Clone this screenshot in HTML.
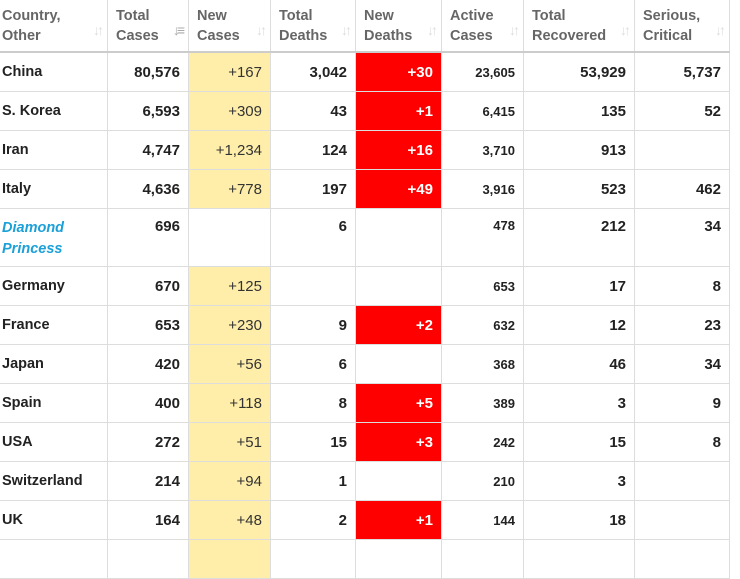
<!DOCTYPE html>
<html><head><meta charset="utf-8"><style>
body{margin:0;background:#fff;width:740px;height:545px;overflow:hidden;font-family:"Liberation Sans",Arial,sans-serif;}
table{border-collapse:collapse;table-layout:fixed;width:730px;position:absolute;left:-1px;top:0;}
td,th{border:1px solid #ddd;padding:0 8px;font-size:15px;color:#222;}
th{height:51px;text-align:left;color:#666;font-weight:bold;font-size:14.5px;line-height:20px;vertical-align:middle;border-top:none;border-bottom:2px solid #ccc;position:relative;}
th .s{position:absolute;right:6px;bottom:11px;color:#ddd;font-size:14px;letter-spacing:-3px;}
td{height:38px;text-align:right;font-weight:bold;}
td.c{text-align:left;font-weight:bold;font-size:14.5px;padding-left:2px;}
td.n{background:#ffeeaa;font-weight:normal;color:#333;}
td.r{background:#ff0000;color:#fff;}
td.a{font-size:13px;}
td.dp{color:#1ba0d8;font-style:italic;vertical-align:top;padding-top:9px;line-height:21px;}
tr.dpr td{vertical-align:top;padding-top:9px;height:48px;}
</style></head><body>
<table>
<colgroup><col style="width:108px"><col style="width:81px"><col style="width:82px"><col style="width:85px"><col style="width:86px"><col style="width:82px"><col style="width:111px"><col style="width:95px"></colgroup>
<tr>
<th style="padding-left:2px">Country,<br>Other<span class="s">↓↑</span></th>
<th>Total<br>Cases<span class="s" style="color:#aaa">↓≡</span></th>
<th>New<br>Cases<span class="s">↓↑</span></th>
<th>Total<br>Deaths<span class="s">↓↑</span></th>
<th>New<br>Deaths<span class="s">↓↑</span></th>
<th>Active<br>Cases<span class="s">↓↑</span></th>
<th>Total<br>Recovered<span class="s">↓↑</span></th>
<th>Serious,<br>Critical<span class="s">↓↑</span></th>
</tr>
<tr><td class="c">China</td><td>80,576</td><td class="n">+167</td><td>3,042</td><td class="r">+30</td><td class="a">23,605</td><td>53,929</td><td>5,737</td></tr>
<tr><td class="c">S. Korea</td><td>6,593</td><td class="n">+309</td><td>43</td><td class="r">+1</td><td class="a">6,415</td><td>135</td><td>52</td></tr>
<tr><td class="c">Iran</td><td>4,747</td><td class="n">+1,234</td><td>124</td><td class="r">+16</td><td class="a">3,710</td><td>913</td><td></td></tr>
<tr><td class="c">Italy</td><td>4,636</td><td class="n">+778</td><td>197</td><td class="r">+49</td><td class="a">3,916</td><td>523</td><td>462</td></tr>
<tr class="dpr"><td class="c dp">Diamond<br>Princess</td><td>696</td><td></td><td>6</td><td></td><td class="a">478</td><td>212</td><td>34</td></tr>
<tr><td class="c">Germany</td><td>670</td><td class="n">+125</td><td></td><td></td><td class="a">653</td><td>17</td><td>8</td></tr>
<tr><td class="c">France</td><td>653</td><td class="n">+230</td><td>9</td><td class="r">+2</td><td class="a">632</td><td>12</td><td>23</td></tr>
<tr><td class="c">Japan</td><td>420</td><td class="n">+56</td><td>6</td><td></td><td class="a">368</td><td>46</td><td>34</td></tr>
<tr><td class="c">Spain</td><td>400</td><td class="n">+118</td><td>8</td><td class="r">+5</td><td class="a">389</td><td>3</td><td>9</td></tr>
<tr><td class="c">USA</td><td>272</td><td class="n">+51</td><td>15</td><td class="r">+3</td><td class="a">242</td><td>15</td><td>8</td></tr>
<tr><td class="c">Switzerland</td><td>214</td><td class="n">+94</td><td>1</td><td></td><td class="a">210</td><td>3</td><td></td></tr>
<tr><td class="c">UK</td><td>164</td><td class="n">+48</td><td>2</td><td class="r">+1</td><td class="a">144</td><td>18</td><td></td></tr>
<tr><td class="c"></td><td></td><td class="n"></td><td></td><td></td><td class="a"></td><td></td><td></td></tr>
</table>
</body></html>
